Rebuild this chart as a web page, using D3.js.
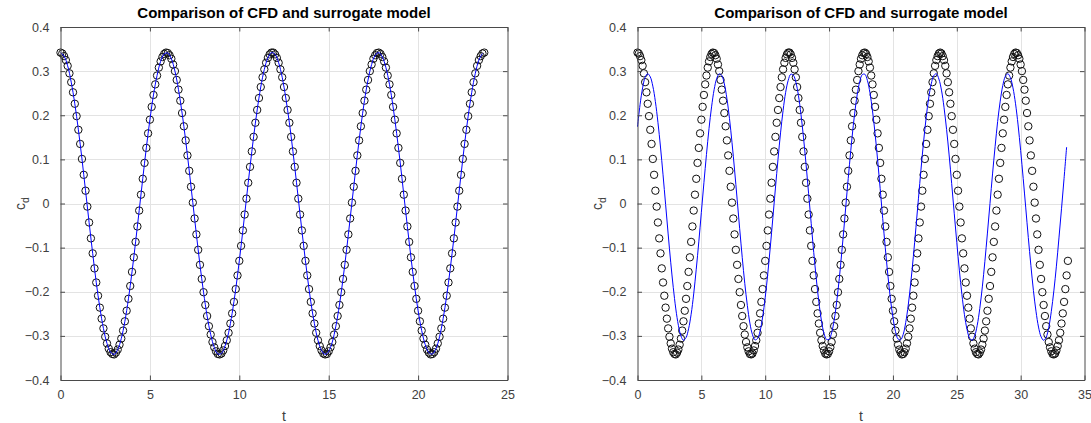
<!DOCTYPE html>
<html>
<head>
<meta charset="utf-8">
<script src="https://cdn.jsdelivr.net/npm/d3@7"></script>
<style>
  html, body { margin: 0; padding: 0; background: #fff; }
  svg { display: block; font-family: "Liberation Sans", Arial, Helvetica, sans-serif; }
</style>
</head>
<body>
<svg id="chart" width="1091" height="423"></svg>
<script>
// ---------------- DATA ----------------
const titleText = "Comparison of CFD and surrogate model";
const xLabelText = "t";

// CFD samples (circles), time step 0.1, t = 0 ... 33.7
const cfdStep = 0.1;
const cfdCd = [
  0.342, 0.340, 0.334, 0.325, 0.312, 0.295, 0.275, 0.252, 0.226, 0.198,
  0.167, 0.135, 0.101, 0.065, 0.029, -0.007, -0.043, -0.079, -0.113, -0.147,
  -0.179, -0.209, -0.236, -0.261, -0.283, -0.302, -0.317, -0.329, -0.337, -0.341,
  -0.342, -0.338, -0.331, -0.320, -0.306, -0.288, -0.267, -0.243, -0.216, -0.187,
  -0.155, -0.122, -0.087, -0.052, -0.016, 0.020, 0.056, 0.092, 0.126, 0.159,
  0.190, 0.219, 0.246, 0.270, 0.290, 0.308, 0.322, 0.332, 0.339, 0.342,
  0.341, 0.336, 0.328, 0.315, 0.300, 0.280, 0.258, 0.233, 0.205, 0.175,
  0.143, 0.109, 0.074, 0.038, 0.002, -0.034, -0.070, -0.105, -0.139, -0.171,
  -0.201, -0.230, -0.255, -0.278, -0.297, -0.314, -0.326, -0.335, -0.341, -0.342,
  -0.340, -0.333, -0.323, -0.310, -0.293, -0.272, -0.249, -0.223, -0.194, -0.163,
  -0.130, -0.096, -0.061, -0.025, 0.011, 0.047, 0.083, 0.118, 0.151, 0.183,
  0.212, 0.239, 0.264, 0.286, 0.304, 0.319, 0.330, 0.338, 0.342, 0.342,
  0.338, 0.330, 0.319, 0.304, 0.286, 0.264, 0.239, 0.212, 0.183, 0.151,
  0.118, 0.083, 0.047, 0.011, -0.025, -0.061, -0.096, -0.130, -0.163, -0.194,
  -0.223, -0.249, -0.272, -0.293, -0.310, -0.323, -0.333, -0.340, -0.342, -0.341,
  -0.335, -0.326, -0.314, -0.297, -0.278, -0.255, -0.230, -0.201, -0.171, -0.139,
  -0.105, -0.070, -0.034, 0.002, 0.038, 0.074, 0.109, 0.143, 0.175, 0.205,
  0.233, 0.258, 0.280, 0.300, 0.315, 0.328, 0.336, 0.341, 0.342, 0.339,
  0.332, 0.322, 0.308, 0.290, 0.270, 0.246, 0.219, 0.190, 0.159, 0.126,
  0.092, 0.056, 0.020, -0.016, -0.052, -0.087, -0.122, -0.155, -0.187, -0.216,
  -0.243, -0.267, -0.288, -0.306, -0.320, -0.331, -0.338, -0.342, -0.341, -0.337,
  -0.329, -0.317, -0.302, -0.283, -0.261, -0.236, -0.209, -0.179, -0.147, -0.113,
  -0.079, -0.043, -0.007, 0.029, 0.065, 0.101, 0.135, 0.167, 0.198, 0.226,
  0.252, 0.275, 0.295, 0.312, 0.325, 0.334, 0.340, 0.342,
  0.340, 0.334, 0.325, 0.312, 0.295, 0.275, 0.252, 0.226, 0.198, 0.167,
  0.135, 0.101, 0.065, 0.029, -0.007, -0.043, -0.079, -0.113, -0.147, -0.179,
  -0.209, -0.236, -0.261, -0.283, -0.302, -0.317, -0.329, -0.337, -0.341, -0.342,
  -0.338, -0.331, -0.320, -0.306, -0.288, -0.267, -0.243, -0.216, -0.187, -0.155,
  -0.122, -0.087, -0.052, -0.016, 0.020, 0.056, 0.092, 0.126, 0.159, 0.190,
  0.219, 0.246, 0.270, 0.290, 0.308, 0.322, 0.332, 0.339, 0.342, 0.341,
  0.336, 0.328, 0.315, 0.300, 0.280, 0.258, 0.233, 0.205, 0.175, 0.143,
  0.109, 0.074, 0.038, 0.002, -0.034, -0.070, -0.105, -0.139, -0.171, -0.201,
  -0.230, -0.255, -0.278, -0.297, -0.314, -0.326, -0.335, -0.341, -0.342, -0.340,
  -0.333, -0.323, -0.310, -0.293, -0.272, -0.249, -0.223, -0.194, -0.163, -0.130
];
// left panel shows the CFD record up to this time
const leftTMax = 23.7;

// Surrogate model (blue line), time step 0.2
const surrStep = 0.2;
const surrLeftCd = [
  0.342, 0.334, 0.312, 0.275, 0.226, 0.167, 0.101, 0.029, -0.043, -0.113,
  -0.179, -0.236, -0.283, -0.317, -0.337, -0.342, -0.331, -0.306, -0.267, -0.216,
  -0.155, -0.087, -0.016, 0.056, 0.126, 0.190, 0.246, 0.290, 0.322, 0.339,
  0.341, 0.328, 0.300, 0.258, 0.205, 0.143, 0.074, 0.002, -0.070, -0.139,
  -0.201, -0.255, -0.297, -0.326, -0.341, -0.340, -0.323, -0.293, -0.249, -0.194,
  -0.130, -0.061, 0.011, 0.083, 0.151, 0.212, 0.264, 0.304, 0.330, 0.342,
  0.338, 0.319, 0.286, 0.239, 0.183, 0.118, 0.047, -0.025, -0.096, -0.163,
  -0.223, -0.272, -0.310, -0.333, -0.342, -0.335, -0.314, -0.278, -0.230, -0.171,
  -0.105, -0.034, 0.038, 0.109, 0.175, 0.233, 0.280, 0.315, 0.336, 0.342,
  0.332, 0.308, 0.270, 0.219, 0.159, 0.092, 0.020, -0.052, -0.122, -0.187,
  -0.243, -0.288, -0.320, -0.338, -0.341, -0.329, -0.302, -0.261, -0.209, -0.147,
  -0.079, -0.007, 0.065, 0.135, 0.198, 0.252, 0.295, 0.325, 0.340
];
const surrRightCd = [
  0.174, 0.224, 0.262, 0.286, 0.294, 0.287, 0.266, 0.231, 0.184, 0.128,
  0.065, -0.002, -0.069, -0.133, -0.190, -0.239, -0.276, -0.300, -0.310, -0.304,
  -0.284, -0.251, -0.205, -0.149, -0.087, -0.020, 0.047, 0.111, 0.170, 0.219,
  0.258, 0.283, 0.294, 0.290, 0.271, 0.238, 0.193, 0.138, 0.076, 0.010,
  -0.057, -0.122, -0.181, -0.231, -0.271, -0.297, -0.309, -0.306, -0.289, -0.257,
  -0.213, -0.159, -0.098, -0.032, 0.035, 0.100, 0.160, 0.211, 0.252, 0.279,
  0.293, 0.291, 0.275, 0.245, 0.202, 0.149, 0.088, 0.022, -0.045, -0.111,
  -0.171, -0.223, -0.265, -0.294, -0.308, -0.308, -0.293, -0.264, -0.222, -0.170,
  -0.109, -0.044, 0.024, 0.089, 0.150, 0.203, 0.246, 0.276, 0.292, 0.293,
  0.279, 0.251, 0.210, 0.159, 0.099, 0.034, -0.034, -0.100, -0.161, -0.215,
  -0.258, -0.290, -0.307, -0.309, -0.297, -0.270, -0.230, -0.179, -0.120, -0.055,
  0.012, 0.078, 0.140, 0.194, 0.239, 0.271, 0.290, 0.294, 0.282, 0.257,
  0.218, 0.168, 0.110, 0.045, -0.022, -0.088, -0.151, -0.206, -0.252, -0.285,
  -0.305, -0.310, -0.300, -0.276, -0.238, -0.189, -0.131, -0.067, 0.000, 0.067,
  0.129, 0.186, 0.232, 0.267, 0.288, 0.294, 0.285, 0.262, 0.226, 0.178,
  0.120, 0.057, -0.010, -0.077, -0.140, -0.197, -0.244, -0.280, -0.302, -0.310,
  -0.303, -0.281, -0.245, -0.198, -0.142, -0.078, -0.012, 0.057, 0.128
];

const leftXTicks = [0, 5, 10, 15, 20, 25];
const rightXTicks = [0, 5, 10, 15, 20, 25, 30, 35];
const yTicks = [-0.4, -0.3, -0.2, -0.1, 0, 0.1, 0.2, 0.3, 0.4];

// ---------------- DRAW ----------------
const svg = d3.select("#chart");
const axisColor = "#4a4a4a";
const textColor = "#404040";
const gridColor = "#e3e3e3";

function toPoints(values, step) {
  return values.map((v, i) => ({ t: +(i * step).toFixed(2), cd: v }));
}

function drawPanel(opt) {
  const { left, top, width, height, xMax, xTicks, cfd, surr } = opt;
  const x = d3.scaleLinear().domain([0, xMax]).range([left, left + width]);
  const y = d3.scaleLinear().domain([-0.4, 0.4]).range([top + height, top]);
  const g = svg.append("g");

  // grid
  g.append("g").selectAll("line").data(xTicks.slice(1, -1)).join("line")
    .attr("x1", d => Math.round(x(d)) + 0.5).attr("x2", d => Math.round(x(d)) + 0.5)
    .attr("y1", top).attr("y2", top + height)
    .attr("stroke", gridColor).attr("stroke-width", 1);
  g.append("g").selectAll("line").data(yTicks.slice(1, -1)).join("line")
    .attr("y1", d => Math.round(y(d)) + 0.5).attr("y2", d => Math.round(y(d)) + 0.5)
    .attr("x1", left).attr("x2", left + width)
    .attr("stroke", gridColor).attr("stroke-width", 1);

  // clip
  const clipId = "clip" + Math.round(left);
  svg.append("clipPath").attr("id", clipId).append("rect")
    .attr("x", left - 5).attr("y", top - 5).attr("width", width + 10).attr("height", height + 10);

  const plot = g.append("g").attr("clip-path", `url(#${clipId})`);
  // CFD circles
  plot.append("g").selectAll("circle").data(cfd).join("circle")
    .attr("cx", d => x(d.t)).attr("cy", d => y(d.cd)).attr("r", 3.7)
    .attr("fill", "none").attr("stroke", "#111").attr("stroke-width", 1);
  // surrogate line
  const line = d3.line().x(d => x(d.t)).y(d => y(d.cd)).curve(d3.curveCatmullRom);
  plot.append("path").datum(surr).attr("d", line)
    .attr("fill", "none").attr("stroke", "#0000ff").attr("stroke-width", 1);

  // axes (box with inward ticks on all sides)
  const tickLen = 4.5;
  const xB = d3.axisBottom(x).tickValues(xTicks).tickSizeInner(-tickLen).tickSizeOuter(0).tickPadding(10).tickFormat(d3.format("~g"));
  const xT = d3.axisTop(x).tickValues(xTicks).tickSizeInner(-tickLen).tickSizeOuter(0).tickFormat("");
  const yL = d3.axisLeft(y).tickValues(yTicks).tickSizeInner(-tickLen).tickSizeOuter(0).tickPadding(11).tickFormat(d3.format("~g"));
  const yR = d3.axisRight(y).tickValues(yTicks).tickSizeInner(-tickLen).tickSizeOuter(0).tickFormat("");

  const styleAxis = sel => {
    sel.select(".domain").attr("stroke", axisColor).attr("stroke-width", 1);
    sel.selectAll(".tick line").attr("stroke", axisColor).attr("stroke-width", 1);
    sel.selectAll(".tick text").attr("fill", textColor).style("font-size", "12.5px")
      .style("font-family", '"Liberation Sans", Arial, Helvetica, sans-serif');
  };
  g.append("g").attr("transform", `translate(0,${top + height})`).call(xB).call(styleAxis);
  g.append("g").attr("transform", `translate(0,${top})`).call(xT).call(styleAxis);
  g.append("g").attr("transform", `translate(${left},0)`).call(yL).call(styleAxis);
  g.append("g").attr("transform", `translate(${left + width},0)`).call(yR).call(styleAxis);

  // title
  g.append("text").attr("x", left + width / 2).attr("y", top - 9)
    .attr("text-anchor", "middle").attr("fill", "#000")
    .style("font-size", "15px").style("font-weight", "bold")
    .text(titleText);
  // x label
  g.append("text").attr("x", left + width / 2).attr("y", top + height + 41)
    .attr("text-anchor", "middle").attr("fill", textColor)
    .style("font-size", "14px").text(xLabelText);
  // y label c_d
  const yl = g.append("text")
    .attr("transform", `translate(${left - 36},${top + height / 2}) rotate(-90)`)
    .attr("text-anchor", "middle").attr("fill", textColor).style("font-size", "14px");
  yl.append("tspan").text("c");
  yl.append("tspan").attr("dy", 4).style("font-size", "10.5px").text("d");
}

const cfdAll = toPoints(cfdCd, cfdStep);

drawPanel({
  left: 60.5, top: 27, width: 447, height: 353, xMax: 25, xTicks: leftXTicks,
  cfd: cfdAll.filter(d => d.t <= leftTMax + 1e-9),
  surr: toPoints(surrLeftCd, surrStep)
});
drawPanel({
  left: 637.5, top: 27, width: 447, height: 353, xMax: 35, xTicks: rightXTicks,
  cfd: cfdAll,
  surr: toPoints(surrRightCd, surrStep)
});
</script>
</body>
</html>
